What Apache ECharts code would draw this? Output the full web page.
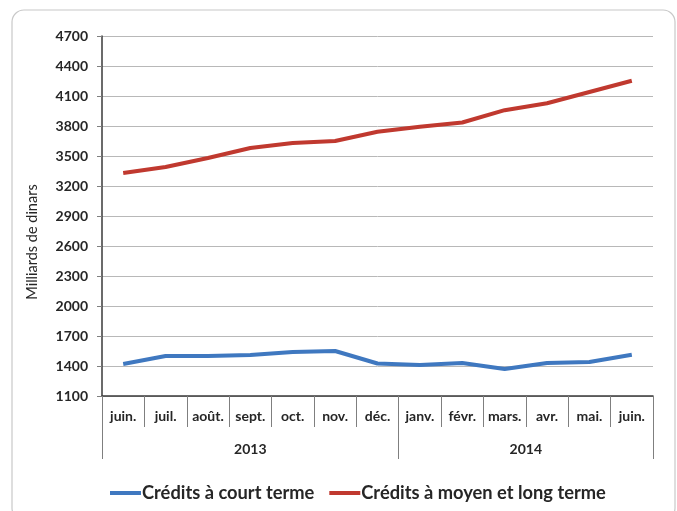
<!DOCTYPE html>
<html lang="fr">
<head>
    <meta charset="UTF-8">
    <title>Crédits</title>
    <style>
        html, body, #echarts {
            margin: 0;
            padding: 0;
            width: 100%;
            height: 100%;
            background: #fff;
        }
    </style>
</head>
<body>
    <div id="echarts"></div>
    <script src="https://cdn.jsdelivr.net/npm/echarts@6/dist/echarts.min.js"></script>
    <script>
        // mois (juin 2013 -> juin 2014)
        var months = ['juin.', 'juil.', 'août.', 'sept.', 'oct.', 'nov.', 'déc.',
            'janv.', 'févr.', 'mars.', 'avr.', 'mai.', 'juin.'];
        var years = ['2013', '2014'];
        var yearBounds = [0, 7, 13];   // séparateurs des années (en nombre de mois)
        var yearCenters = [3.5, 10];

        var courtTerme = [1420, 1500, 1500, 1510, 1540, 1550, 1425, 1410, 1430, 1370, 1430, 1440, 1512];
        var moyenLong = [3330, 3390, 3480, 3580, 3630, 3650, 3742, 3792, 3835, 3958, 4028, 4140, 4252];

        var font = 'Lato';
        var myChart = echarts.init(document.getElementById('echarts'));

        myChart.setOption({
            animation: false,
            textStyle: { fontFamily: font },
            graphic: [{
                type: 'rect',
                shape: { x: 12, y: 10, width: 663, height: 510, r: 12 },
                style: { fill: 'none', stroke: '#c8c8c8', lineWidth: 1.2 },
                z: -10
            }],
            legend: {
                bottom: 4,
                left: 105,
                itemWidth: 31,
                itemHeight: 4,
                itemGap: 15,
                icon: 'rect',
                textStyle: { fontSize: 18.3, fontWeight: 'bold', color: '#262626', padding: [0, 0, 0, -4] },
                data: ['Crédits à court terme', 'Crédits à moyen et long terme']
            },
            grid: {
                left: 102,
                right: 24,
                top: 36,
                bottom: 115
            },
            xAxis: [{
                type: 'category',
                data: months,
                boundaryGap: true,
                axisLine: { show: true, lineStyle: { color: '#3a3a3a', width: 1.5 } },
                axisTick: { show: true, interval: 0, length: 31, lineStyle: { color: '#7f7f7f' } },
                axisLabel: { color: '#262626', fontWeight: 'bold', fontSize: 14, margin: 13, interval: 0 },
                splitLine: { show: false }
            }, {
                type: 'value',
                position: 'bottom',
                min: 0,
                max: 13,
                axisLine: { show: false },
                axisTick: {
                    show: true,
                    length: 63,
                    customValues: yearBounds,
                    lineStyle: { color: '#7f7f7f' }
                },
                axisLabel: {
                    customValues: yearCenters,
                    margin: 46,
                    color: '#262626',
                    fontWeight: 'bold',
                    fontSize: 14,
                    formatter: function (v) {
                        return years[yearCenters.indexOf(v)];
                    }
                },
                splitLine: { show: false }
            }],
            yAxis: {
                type: 'value',
                min: 1100,
                max: 4700,
                interval: 300,
                name: 'Milliards de dinars',
                nameLocation: 'middle',
                nameGap: 62,
                nameTextStyle: { color: '#262626', fontSize: 14.5, padding: [0, 52, 0, 0] },
                axisLine: { show: true, lineStyle: { color: '#3a3a3a', width: 1.5 } },
                axisTick: { show: true, length: 5, lineStyle: { color: '#7f7f7f' } },
                axisLabel: {
                    color: '#262626', fontWeight: 'bold', fontSize: 14, margin: 14,
                    formatter: function (v) { return String(v); }
                },
                splitLine: { lineStyle: { color: '#b8b8b8', width: 1 } }
            },
            series: [{
                name: 'Crédits à court terme',
                type: 'line',
                data: courtTerme,
                showSymbol: false,
                itemStyle: { color: '#3f78c0' },
                lineStyle: { width: 4, color: '#3f78c0' }
            }, {
                name: 'Crédits à moyen et long terme',
                type: 'line',
                data: moyenLong,
                showSymbol: false,
                itemStyle: { color: '#c0392f' },
                lineStyle: { width: 4, color: '#c0392f' }
            }]
        });

        window.addEventListener('resize', function () {
            myChart.resize();
        });
    </script>
</body>
</html>
